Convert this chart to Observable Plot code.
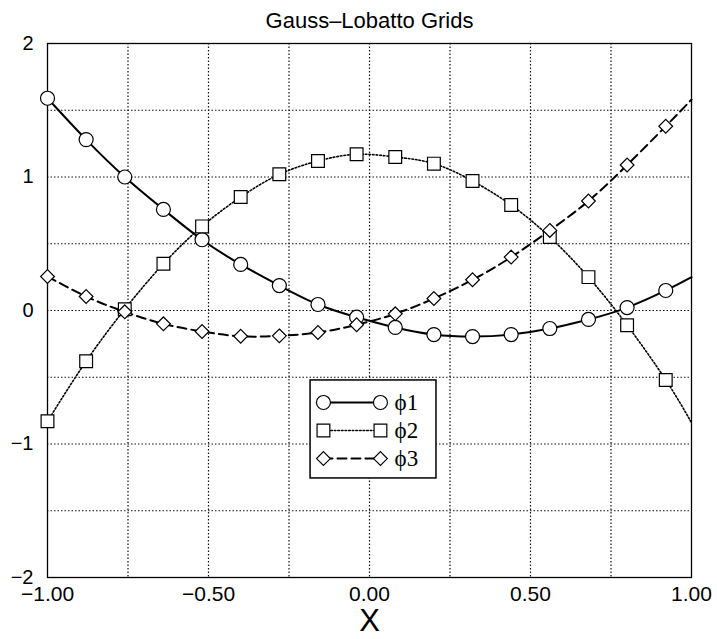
<!DOCTYPE html>
<html>
<head>
<meta charset="utf-8">
<script src="https://cdn.jsdelivr.net/npm/d3@7"></script>
<script src="https://cdn.jsdelivr.net/npm/@observablehq/plot@0.6"></script>
<style>
  body { margin: 0; background: #fff; }
  #chart svg { display: block; }
</style>
</head>
<body>
<div id="chart"></div>
<script>
// Basis functions sampled on the grid nodes; the last node (x = 1) carries no marker.
const title = "Gauss–Lobatto Grids";
const xLabel = "X";
const xNodes = [-1.00, -0.88, -0.76, -0.64, -0.52, -0.40, -0.28, -0.16, -0.04,
                0.08, 0.20, 0.32, 0.44, 0.56, 0.68, 0.80, 0.92, 1.00];
const phi1 = [1.59, 1.28, 1.00, 0.757, 0.53, 0.345, 0.187, 0.045, -0.05,
              -0.127, -0.18, -0.195, -0.18, -0.135, -0.067, 0.022, 0.15, 0.25];
const phi2 = [-0.83, -0.38, 0.01, 0.35, 0.63, 0.85, 1.02, 1.12, 1.17,
              1.15, 1.10, 0.97, 0.79, 0.55, 0.25, -0.11, -0.52, -0.84];
const phi3 = [0.255, 0.105, -0.01, -0.10, -0.157, -0.193, -0.19, -0.165, -0.107,
              -0.025, 0.09, 0.23, 0.40, 0.60, 0.82, 1.09, 1.38, 1.58];
const seriesNames = ["ϕ1", "ϕ2", "ϕ3"];
const markerCount = 17;

const xTicks = [-1, -0.5, 0, 0.5, 1];
const yTicks = [-2, -1, 0, 1, 2];
const xGrid = [-0.75, -0.5, -0.25, 0, 0.25, 0.5, 0.75];
const yGrid = [-1.5, -1, -0.5, 0, 0.5, 1, 1.5];

// Drawing style of each series
const styles = [
  {symbol: "circle", r: 7, dash: null, width: 2},
  {symbol: "square", r: 7.2, dash: "1.6,2", width: 1.6},
  {symbol: "diamond2", r: 6.2, dash: "9,5", width: 2}
];

const values = [phi1, phi2, phi3];
const curves = values.map((ys, s) => xNodes.map((x, i) => ({x, y: ys[i], s})));
const markers = curves.map(c => c.slice(0, markerCount));

// Legend placement, in data units inside the plot
const legendBox = {x1: -0.183, x2: 0.208, y1: -0.524, y2: -1.258};
const legendRowsY = [-0.689, -0.899, -1.109];
const legendLineX = [-0.143, 0.034];
const legendTextX = 0.078;

const marks = [
  Plot.ruleX(xGrid, {stroke: "#111", strokeWidth: 1.2, strokeDasharray: "1.5,2"}),
  Plot.ruleY(yGrid, {stroke: "#111", strokeWidth: 1.2, strokeDasharray: "1.5,2"}),
  Plot.frame({stroke: "#000", strokeWidth: 1.3}),
  Plot.axisX(xTicks, {tickSize: 0, tickPadding: 9, tickFormat: d3.format(".2f"),
                      fontSize: 21, label: null}),
  Plot.axisY(yTicks, {tickSize: 0, tickPadding: 14, tickFormat: d3.format("d"),
                      fontSize: 20, label: null}),
  Plot.text([title], {frameAnchor: "top", dy: -31, fontSize: 22}),
  Plot.text([xLabel], {frameAnchor: "bottom", dy: 53, fontSize: 31})
];

curves.forEach((c, s) => {
  marks.push(Plot.line(c, {x: "x", y: "y", curve: "natural", stroke: "#000",
    strokeWidth: styles[s].width, strokeDasharray: styles[s].dash}));
});
markers.forEach((m, s) => {
  marks.push(Plot.dot(m, {x: "x", y: "y", symbol: () => styles[s].symbol, r: styles[s].r,
    fill: "#fff", stroke: "#000", strokeWidth: 1.2}));
});

// Legend
marks.push(Plot.rect([legendBox], {x1: "x1", x2: "x2", y1: "y1", y2: "y2",
  fill: "#fff", stroke: "#000", strokeWidth: 1.5}));
seriesNames.forEach((name, s) => {
  const row = legendLineX.map(x => ({x, y: legendRowsY[s]}));
  marks.push(Plot.line(row, {x: "x", y: "y", stroke: "#000",
    strokeWidth: styles[s].width, strokeDasharray: styles[s].dash}));
  marks.push(Plot.dot(row, {x: "x", y: "y", symbol: () => styles[s].symbol, r: styles[s].r,
    fill: "#fff", stroke: "#000", strokeWidth: 1.2}));
  marks.push(Plot.text([name], {x: () => legendTextX, y: () => legendRowsY[s],
    textAnchor: "start", fontSize: 23, fontFamily: "Liberation Serif"}));
});

const chart = Plot.plot({
  width: 717,
  height: 639,
  marginLeft: 47,
  marginRight: 26,
  marginTop: 43,
  marginBottom: 62,
  style: {fontFamily: "Liberation Sans, Arial, sans-serif", color: "#000", background: "#fff"},
  x: {domain: [-1, 1]},
  y: {domain: [-2, 2]},
  symbol: {type: "identity"},
  marks
});
document.getElementById("chart").append(chart);
</script>
</body>
</html>
